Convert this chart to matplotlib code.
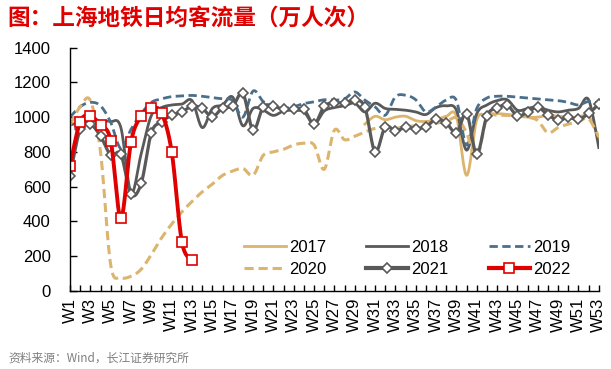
import matplotlib
matplotlib.use('Agg')
import matplotlib.pyplot as plt
import numpy as np

plt.rcParams['font.family'] = ['Liberation Sans', 'Noto Sans CJK SC', 'DejaVu Sans']

# weekly average ridership, 10k persons/day
weeks = ['W%d' % i for i in range(1, 54)]

y2017 = [None] * 29 + [960, 1005, 985, 1000, 1005, 980, 975, 985, 1005, 1005, 665, 985,
                       1010, 1020, 1015, 1010, 1000, 1000, 1010, 1005, 1000, 1000, 1005, 880]

y2018 = [955, 970, 985, 975, 975, 940, 565, 790, 1010, 1055, 1070, 1075, 1095, 940, 1050,
         1070, 1115, 950, 1050, 1040, 1010, 1035, 1040, 1030, 960, 1035, 1055, 1065, 1080,
         1030, 1080, 1050, 1045, 1040, 1030, 1015, 1055, 1065, 1040, 810, 1020, 1070, 1095,
         1100, 1040, 1050, 1060, 1040, 1030, 1040, 1050, 1100, 825]

y2019 = [1000, 1060, 1085, 1065, 970, 820, 930, 1020, 1085, 1105, 1118, 1122, 1125, 1120,
         1112, 1105, 1095, 1000, 1150, 1090, 1065, 1050, 1060, 1078, 1088, 1100, 1098, 1105,
         1145, 1098, 1059, 1011, 1117, 1126, 1100, 1030, 1059, 1098, 1095, 840, 1050, 1110,
         1120, 1120, 1115, 1110, 1105, 1100, 1095, 1085, 1070, 1090, 1080]

y2020 = [955, 1060, 1095, 800, 150, 78, 85, 125, 210, 305, 385, 455, 515, 570, 615, 665, 690,
         705, 665, 780, 800, 815, 840, 850, 840, 700, 925, 870, 890, 915, 935, 935, 935, 945,
         950, 955, 965, 975, 995, 910, 765, 1000, 1010, 1010, 1005, 1000, 980, 910, 940, 960,
         975, 990, 885]

y2021 = [661, 931, 958, 891, 782, 786, 557, 619, 910, 973, 1011, 1030, 1063, 1050, 1002,
         1053, 1063, 1136, 925, 1059, 1063, 1044, 1044, 1044, 958, 1063, 1082, 1082, 1098,
         1056, 800, 944, 921, 941, 933, 946, 987, 967, 910, 1019, 787, 1008, 1052, 1069, 1006,
         1030, 1056, 1013, 983, 998, 987, 1021, 1075]

y2022 = [720, 973, 1006, 954, 864, 418, 858, 1006, 1053, 1023, 800, 283, 178]


def smooth(xs, ys, n=16):
    # Excel-style smoothed line (Bezier, control points at 1/6 of neighbour slope)
    pts = [(x, y) for x, y in zip(xs, ys) if y is not None]
    p = np.array(pts, dtype=float)
    out = [p[0]]
    t = np.linspace(0, 1, n)[1:, None]
    for i in range(len(p) - 1):
        p0 = p[i - 1] if i > 0 else p[i]
        p3 = p[i + 2] if i + 2 < len(p) else p[i + 1]
        c1 = p[i] + (p[i + 1] - p0) / 6
        c2 = p[i + 1] - (p3 - p[i]) / 6
        seg = ((1 - t) ** 3 * p[i] + 3 * (1 - t) ** 2 * t * c1
               + 3 * (1 - t) * t ** 2 * c2 + t ** 3 * p[i + 1])
        out.extend(seg)
    out = np.array(out)
    return out[:, 0], out[:, 1]


gold = '#dcb46e'
gray = '#595959'
blue = '#4a6f8c'
red = '#e00000'

fig = plt.figure(figsize=(6.11, 3.69), dpi=100)
ax = fig.add_axes([0.1146, 0.2114, 0.8654, 0.6596])

x = np.arange(53)
xs, ys = smooth(x, y2017)
l17, = ax.plot(xs, ys, color=gold, lw=2.0)
xs, ys = smooth(x, y2018)
l18, = ax.plot(xs, ys, color=gray, lw=2.0)
xs, ys = smooth(x, y2019)
l19, = ax.plot(xs, ys, color=blue, lw=2.0, dashes=(3, 1.6))
xs, ys = smooth(x, y2020)
l20, = ax.plot(xs, ys, color=gold, lw=2.2, dashes=(3, 1.6))
xs, ys = smooth(x, y2021)
ax.plot(xs, ys, color=gray, lw=2.3)
ax.plot(x, y2021, ls='none', marker='D', ms=5.2, mfc='white', mec=gray, mew=1.2)
l21, = ax.plot([], [], color=gray, lw=3, marker='D', ms=5.2, mfc='white', mec=gray, mew=1.2)
x22 = np.arange(len(y2022))
xs, ys = smooth(x22, y2022)
ax.plot(xs, ys, color=red, lw=2.8)
ax.plot(x22, y2022, ls='none', marker='s', ms=7, mfc='white', mec=red, mew=1.2)
l22, = ax.plot([], [], color=red, lw=3, marker='s', ms=7, mfc='white', mec=red, mew=1.2)

ax.set_xlim(0, 52)
ax.set_ylim(0, 1400)
ax.set_yticks(range(0, 1401, 200))
ax.set_xticks(x)
ax.set_xticklabels([w if i % 2 == 0 else '' for i, w in enumerate(weeks)], rotation=90)
ax.tick_params(axis='x', direction='in', length=4, width=1, pad=5, labelsize=12)
ax.tick_params(axis='y', direction='in', length=5, width=1, pad=14, labelsize=12)
for lab in ax.get_xticklabels():
    lab.set_va('top')
for s in ['top', 'right']:
    ax.spines[s].set_visible(False)
for s in ['left', 'bottom']:
    ax.spines[s].set_color('black')
    ax.spines[s].set_linewidth(1)

handles = [l17, l20, l18, l21, l19, l22]
labels = ['2017', '2020', '2018', '2021', '2019', '2022']
ax.legend(handles, labels, ncol=3, frameon=False, fontsize=12, handlelength=2.5,
          columnspacing=2.4, labelspacing=0.4, handletextpad=0.2, borderpad=0,
          borderaxespad=0, loc='lower left', bbox_to_anchor=(244 / 611, 1 - 277 / 369),
          bbox_transform=fig.transFigure)

fig.text(0.012, 0.951, '图：上海地铁日均客流量（万人次）', color=red, fontsize=16.3,
         fontweight='bold', family=['Noto Sans CJK SC'], va='center', ha='left')
fig.text(0.013, 0.03, '资料来源：Wind，长江证券研究所', color='#7f7f7f', fontsize=8.5,
         family=['Noto Sans CJK SC'], va='center', ha='left')

fig.savefig('out.png', dpi=100)
